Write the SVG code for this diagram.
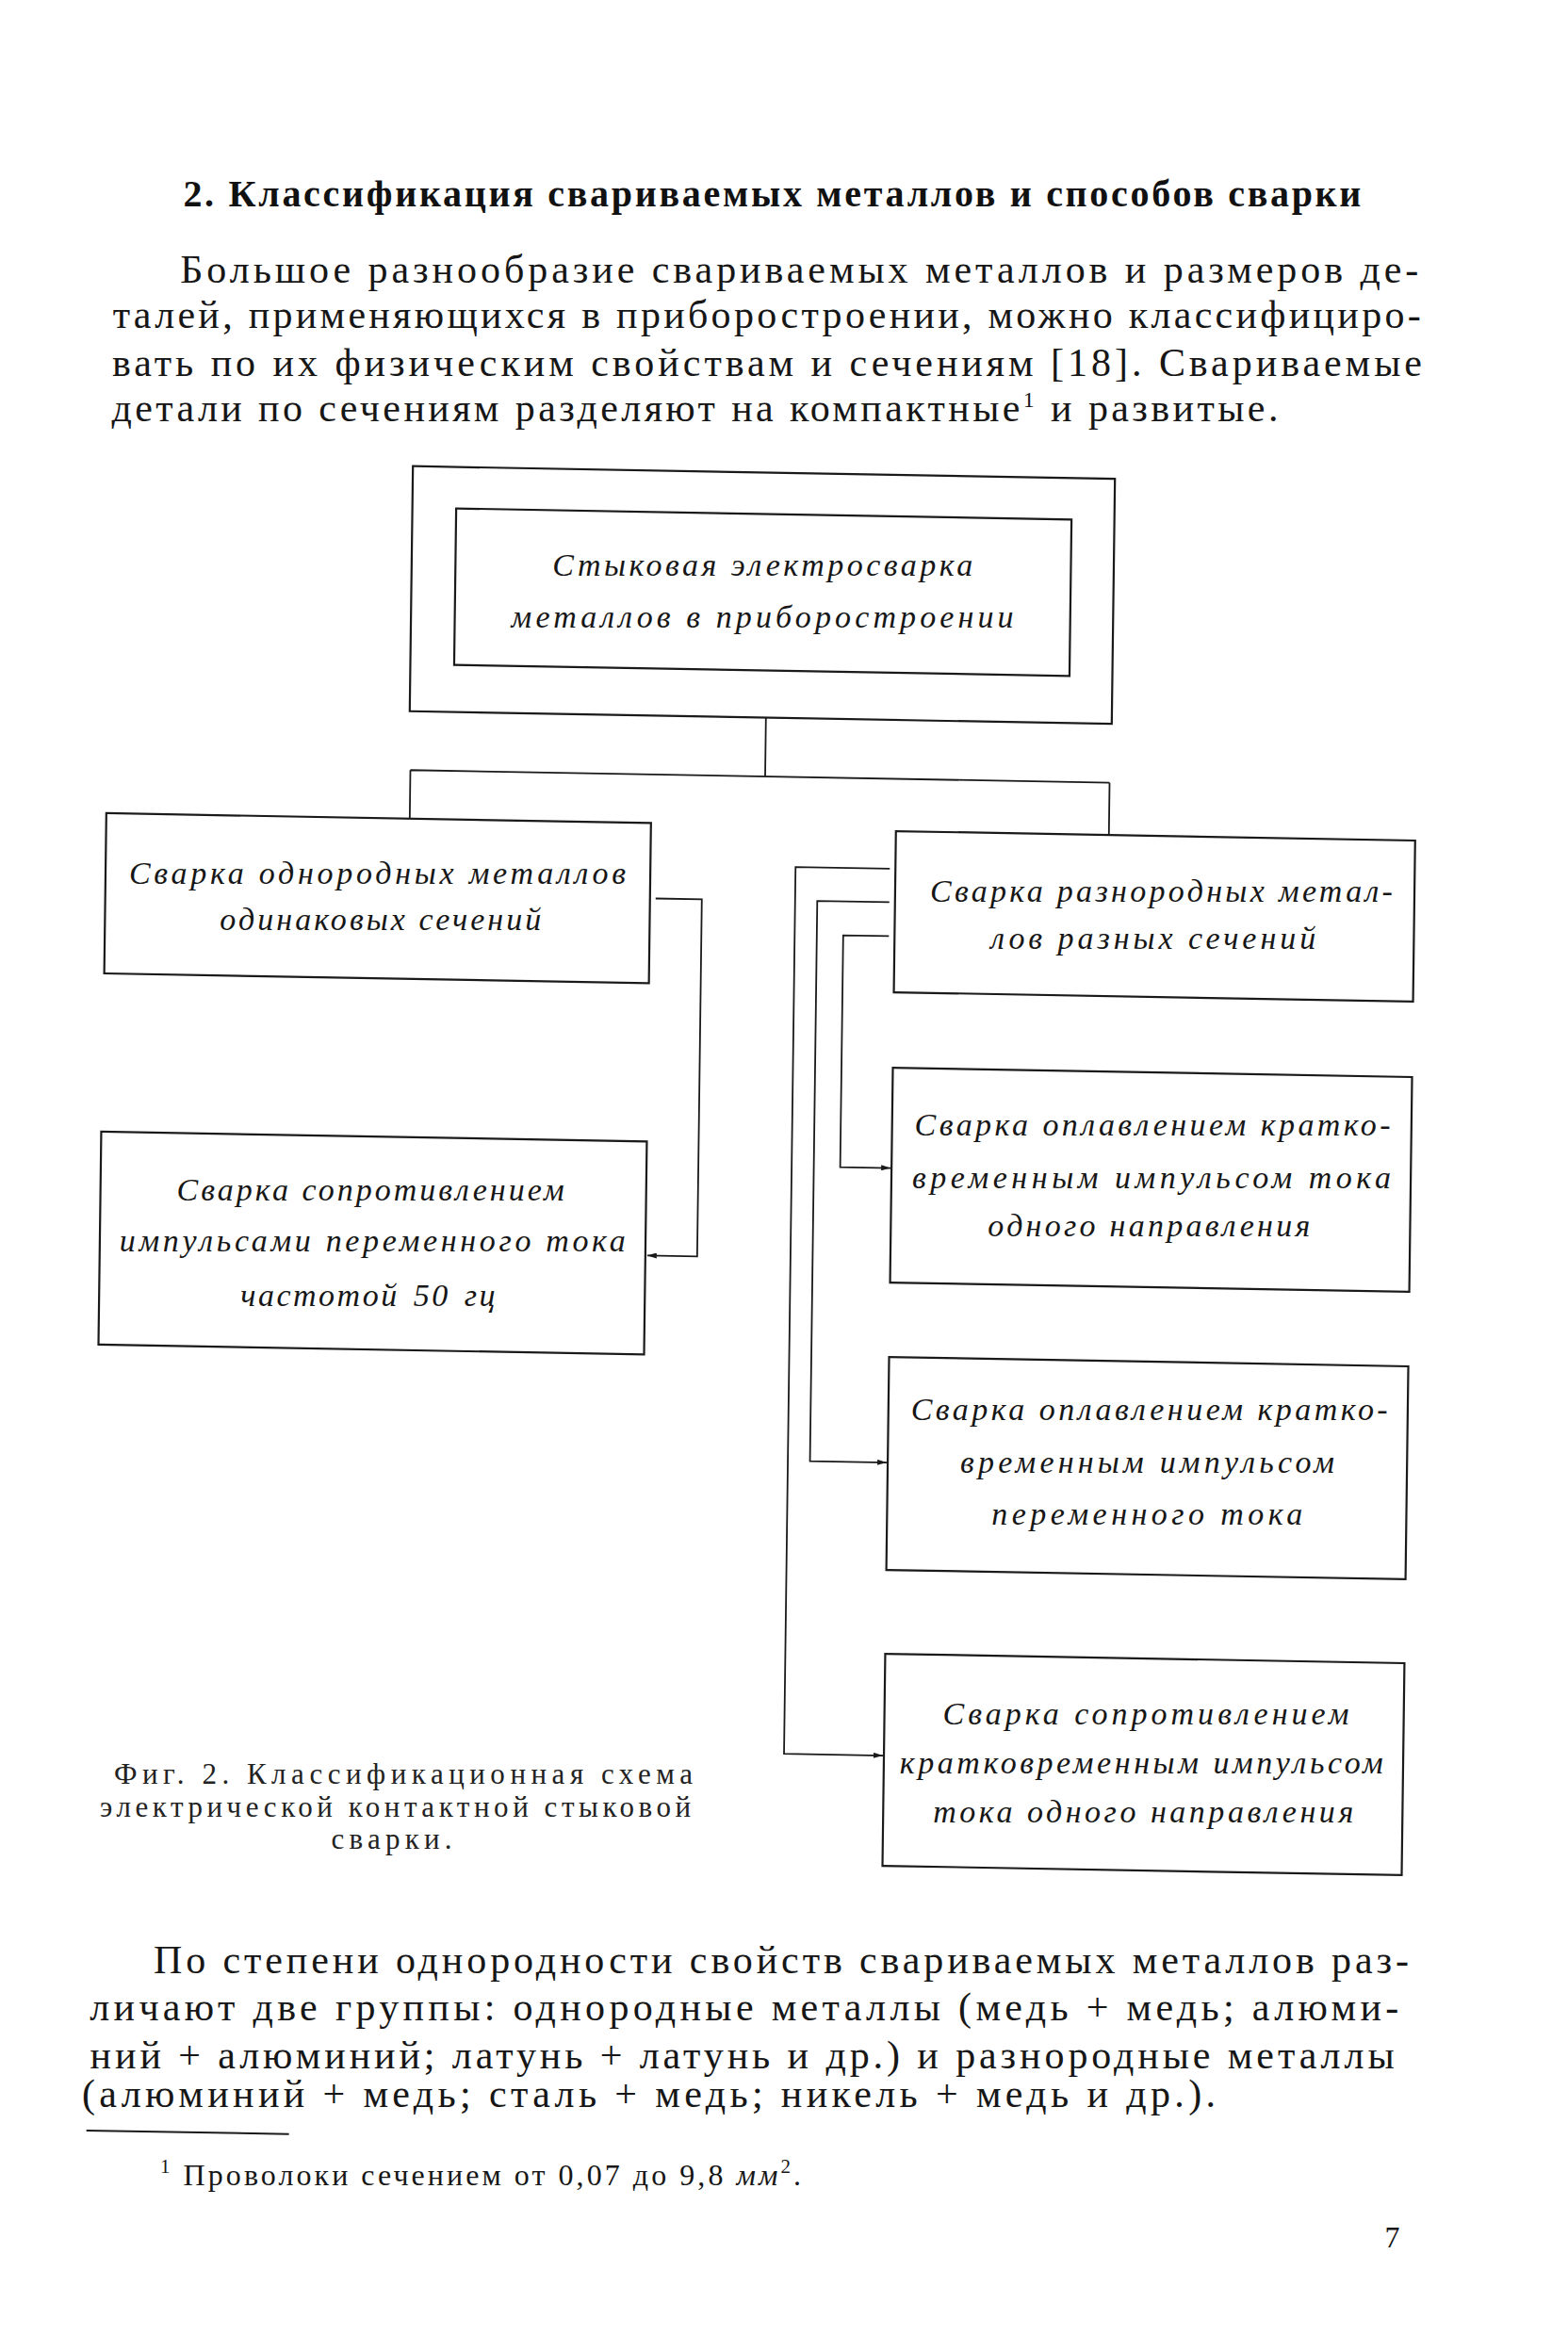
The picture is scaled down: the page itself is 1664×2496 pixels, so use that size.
<svg xmlns="http://www.w3.org/2000/svg" width="1664" height="2496" viewBox="0 0 1664 2496">
<defs>
<style>
.body{font-family:"Liberation Serif","DejaVu Serif",serif;font-size:42px;fill:#161616;}
.title{font-family:"Liberation Serif","DejaVu Serif",serif;font-size:40px;font-weight:bold;fill:#111;}
.box{fill:none;stroke:#1a1a1a;stroke-width:2.2;}
.lbl{font-family:"Liberation Serif","DejaVu Serif",serif;font-style:italic;font-size:34px;fill:#161616;}
.cap{font-family:"Liberation Serif","DejaVu Serif",serif;font-size:31px;fill:#222;}
.fn{font-family:"Liberation Serif","DejaVu Serif",serif;font-size:32px;fill:#161616;}
.con{fill:none;stroke:#1a1a1a;stroke-width:1.8;}
</style>
<marker id="arr" viewBox="0 0 10 6" refX="10" refY="3" markerWidth="10" markerHeight="6" markerUnits="userSpaceOnUse" orient="auto">
<path d="M0,0 L10,3 L0,6 Z" fill="#1a1a1a"/>
</marker>
</defs>
<rect x="0" y="0" width="1664" height="2496" fill="#ffffff"/>
<g id="text-top">
<text class="title" x="194.4" y="218.5" textLength="1250">2. Классификация свариваемых металлов и способов сварки</text>
<text class="body" x="191.3" y="300" textLength="1314">Большое разнообразие свариваемых металлов и размеров де-</text>
<text class="body" x="119.7" y="347.5" textLength="1388">талей, применяющихся в приборостроении, можно классифициро-</text>
<text class="body" x="119" y="398.5" textLength="1390">вать по их физическим свойствам и сечениям [18]. Свариваемые</text>
<text class="body" x="118.4" y="447" textLength="1238">детали по сечениям разделяют на компактные<tspan dy="-15" font-size="24">1</tspan><tspan dy="15"> и развитые.</tspan></text>
</g>
<g id="connectors" transform="matrix(1 0.018 -0.013 1 16.22 -14.98)">
<path class="con" d="M806.5 762 V824.5 M430 824.5 H1172 M430 824.5 V876 M1172 824.5 V880"/>
<path class="con" d="M692 956 H741 V1335 H688" marker-end="url(#arr)"/>
<path class="con" d="M940 991.5 H891.5 V1237.5 H945" marker-end="url(#arr)"/>
<path class="con" d="M940 955.5 H863.5 V1550 H945" marker-end="url(#arr)"/>
<path class="con" d="M940 920 H840 V1861 H945" marker-end="url(#arr)"/>
</g>
<g id="node-root">
<g transform="matrix(1 0.018 -0.013 1 16.22 -14.98)">
<rect class="box" x="428.5" y="502" width="745" height="260"/>
<rect class="box" x="475" y="546" width="653" height="166"/>
</g>
<text class="lbl" x="586.3" y="611.4" textLength="446">Стыковая электросварка</text>
<text class="lbl" x="542.6" y="666.4" textLength="533">металлов в приборостроении</text>
</g>
<g id="node-homogeneous">
<rect class="box" x="108" y="876" width="578" height="170" transform="matrix(1 0.018 -0.013 1 16.22 -14.98)"/>
<text class="lbl" x="136.9" y="938.2" textLength="527">Сварка однородных металлов</text>
<text class="lbl" x="233.3" y="987.2" textLength="341">одинаковых сечений</text>
</g>
<g id="node-resistance-ac">
<rect class="box" x="107" y="1214" width="579" height="226" transform="matrix(1 0.018 -0.013 1 16.22 -14.98)"/>
<text class="lbl" x="187.6" y="1274.1" textLength="411">Сварка сопротивлением</text>
<text class="lbl" x="126.8" y="1328" textLength="537">импульсами переменного тока</text>
<text class="lbl" x="391.6" y="1386" text-anchor="middle" letter-spacing="2.5" word-spacing="4">частотой 50 гц</text>
</g>
<g id="node-heterogeneous">
<rect class="box" x="946" y="880" width="551" height="171" transform="matrix(1 0.018 -0.013 1 16.22 -14.98)"/>
<text class="lbl" x="986.9" y="957.1" textLength="491">Сварка разнородных метал-</text>
<text class="lbl" x="1051.2" y="1007" textLength="345">лов разных сечений</text>
</g>
<g id="node-flash-dc">
<rect class="box" x="946" y="1131" width="551" height="228" transform="matrix(1 0.018 -0.013 1 16.22 -14.98)"/>
<text class="lbl" x="970.6" y="1205" textLength="505">Сварка оплавлением кратко-</text>
<text class="lbl" x="967.9" y="1261" textLength="508">временным импульсом тока</text>
<text class="lbl" x="1048.3" y="1312" textLength="342">одного направления</text>
</g>
<g id="node-flash-ac">
<rect class="box" x="946" y="1438" width="551" height="226" transform="matrix(1 0.018 -0.013 1 16.22 -14.98)"/>
<text class="lbl" x="966.7" y="1507" textLength="506">Сварка оплавлением кратко-</text>
<text class="lbl" x="1019" y="1563" textLength="397">временным импульсом</text>
<text class="lbl" x="1052.3" y="1618" textLength="330">переменного тока</text>
</g>
<g id="node-resistance-dc">
<rect class="box" x="946" y="1753" width="551" height="225" transform="matrix(1 0.018 -0.013 1 16.22 -14.98)"/>
<text class="lbl" x="1000.5" y="1830" textLength="431">Сварка сопротивлением</text>
<text class="lbl" x="954.8" y="1882" textLength="513">кратковременным импульсом</text>
<text class="lbl" x="990.2" y="1934" textLength="446">тока одного направления</text>
</g>
<g id="caption">
<text class="cap" x="121" y="1892.9" textLength="614">Фиг. 2. Классификационная схема</text>
<text class="cap" x="106.1" y="1928.2" textLength="627">электрической контактной стыковой</text>
<text class="cap" x="351.6" y="1962.2" textLength="128">сварки.</text>
</g>
<g id="text-bottom">
<text class="body" x="163" y="2094" textLength="1332">По степени однородности свойств свариваемых металлов раз-</text>
<text class="body" x="95.3" y="2144" textLength="1389">личают две группы: однородные металлы (медь + медь; алюми-</text>
<text class="body" x="95.6" y="2195" textLength="1384">ний + алюминий; латунь + латунь и др.) и разнородные металлы</text>
<text class="body" x="87" y="2236" textLength="1203">(алюминий + медь; сталь + медь; никель + медь и др.).</text>
<line x1="105" y1="2274" x2="320" y2="2274" stroke="#1a1a1a" stroke-width="2" transform="matrix(1 0.018 -0.013 1 16.22 -14.98)"/>
<text class="fn" x="170" y="2318.5" textLength="680"><tspan font-size="21" dy="-13">1</tspan><tspan dy="13"> Проволоки сечением от 0,07 до 9,8 </tspan><tspan font-style="italic">мм</tspan><tspan font-size="21" dy="-13">2</tspan><tspan dy="13">.</tspan></text>
<text class="fn" x="1469.4" y="2384.7" font-size="36">7</text>
</g>
</svg>
